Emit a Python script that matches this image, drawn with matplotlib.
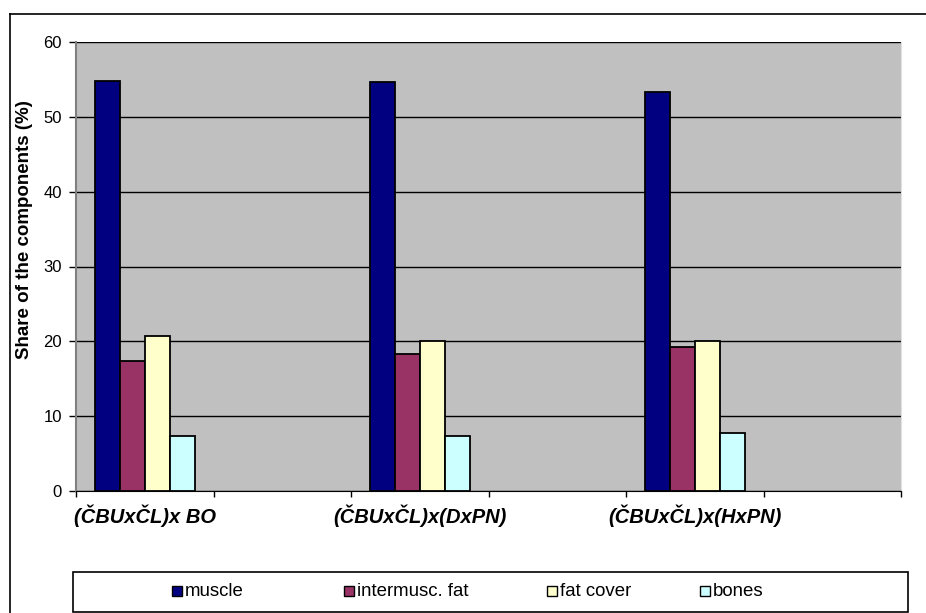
import matplotlib.pyplot as plt
import numpy as np
from matplotlib.lines import Line2D
from matplotlib.patches import Rectangle

plt.rcParams["font.family"] = ["Liberation Sans", "DejaVu Sans"]

# Six category slots; every second one is left empty in the source sheet.
categories = ["(ČBUxČL)x BO", "", "(ČBUxČL)x(DxPN)", "", "(ČBUxČL)x(HxPN)", ""]
nan = np.nan
muscle = [54.8, nan, 54.7, nan, 53.3, nan]
intermusc_fat = [17.4, nan, 18.3, nan, 19.2, nan]
fat_cover = [20.7, nan, 20.1, nan, 20.1, nan]
bones = [7.3, nan, 7.4, nan, 7.7, nan]

series_names = ["muscle", "intermusc. fat", "fat cover", "bones"]
series_colors = ["#000080", "#993366", "#FFFFCC", "#CCFFFF"]
y_ticks = [0, 10, 20, 30, 40, 50, 60]

W, H = 926, 613
fig = plt.figure(figsize=(W / 100, H / 100), dpi=100)

def fx(px):
    return px / W

def fy(py):
    return 1 - py / H

# plot area in pixel terms
left, right, top, bottom = 76, 901, 42, 491
ax = fig.add_axes([fx(left), fy(bottom), fx(right - left), (bottom - top) / H])
ax.set_facecolor("#C0C0C0")

x = np.arange(len(categories))
width = 1 / 5.5
series = [muscle, intermusc_fat, fat_cover, bones]
for i, (vals, name, col) in enumerate(zip(series, series_names, series_colors)):
    ax.bar(x + (i - 1.5) * width, vals, width, color=col, edgecolor="black",
           linewidth=1.3, label=name, zorder=3)

ax.set_xlim(-0.5, len(categories) - 0.5)
ax.set_ylim(0, 60)
ax.set_yticks(y_ticks)
ax.yaxis.grid(True, color="black", linewidth=1.0, zorder=1)
ax.set_axisbelow(True)

# tick marks sit on the category boundaries, labels in the middle
ax.set_xticks(np.arange(len(categories) + 1) - 0.5)
ax.set_xticklabels([])
ax.set_xticks(x, minor=True)
ax.set_xticklabels(categories, minor=True, fontsize=14.5, fontweight="bold",
                   fontstyle="italic")
ax.tick_params(axis="x", which="major", length=4.5, width=1, color="black")
ax.tick_params(axis="x", which="minor", length=0, pad=10)
ax.tick_params(axis="y", length=5, width=1, pad=5, labelsize=12)

ax.spines["left"].set_color("#808080")
ax.spines["left"].set_linewidth(1.5)
ax.spines["bottom"].set_color("black")
ax.spines["top"].set_visible(False)
ax.spines["right"].set_color("#E0E0E0")

fig.text(fx(25), fy(230), "Share of the components (%)", rotation=90,
         ha="center", va="center", fontsize=13.5, fontweight="bold")

# outer chart border (only top and left edges are inside the image)
fig.add_artist(Line2D([fx(10), 1], [fy(14), fy(14)], color="black", lw=1.2))
fig.add_artist(Line2D([fx(10), fx(10)], [0, fy(14)], color="black", lw=1.2))

# legend box with hand-placed entries
lx0, lx1, ly0, ly1 = 73, 908, 572, 612
fig.add_artist(Rectangle((fx(lx0), fy(ly1)), fx(lx1 - lx0), (ly1 - ly0) / H,
                         transform=fig.transFigure, facecolor="white",
                         edgecolor="black", lw=1.2))
entry_x = [172, 344, 547, 700]
sq = 10
ymid = 591
for ex, name, col in zip(entry_x, series_names, series_colors):
    fig.add_artist(Rectangle((fx(ex), fy(ymid + sq / 2)), fx(sq), sq / H,
                             transform=fig.transFigure, facecolor=col,
                             edgecolor="black", lw=1.0))
    fig.text(fx(ex + sq + 3), fy(ymid), name, ha="left", va="center",
             fontsize=13.4)

fig.savefig("out.png", dpi=100)
